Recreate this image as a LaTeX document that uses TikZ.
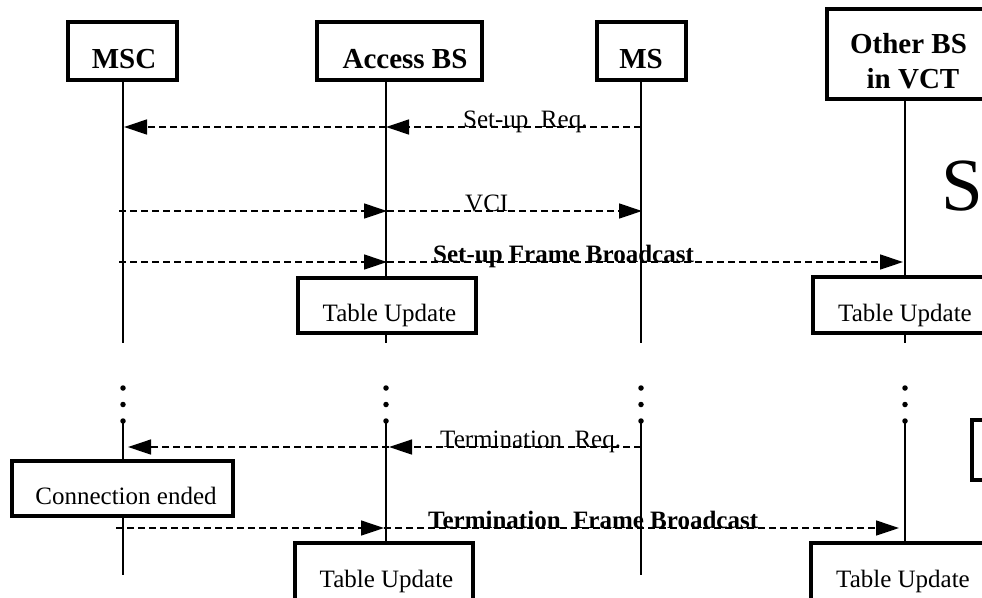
\documentclass[tikz,border=0pt]{standalone}
\usepackage{fontspec}
\setmainfont{Liberation Serif}
\usetikzlibrary{arrows.meta}

\begin{document}
\begin{tikzpicture}[x=1pt,y=-1pt,
  box/.style={draw, line width=3.2pt, fill=white, inner sep=0pt},
  life/.style={line width=1.2pt},
  msg/.style={line width=1.3pt, dash pattern=on 7pt off 4pt,
              -{Triangle[length=23pt,width=15pt]}},
  hdr/.style={font=\fontsize{29}{34}\selectfont\bfseries, inner sep=0pt, anchor=base},
  txt/.style={font=\fontsize{25}{30}\selectfont, inner sep=0pt, anchor=base},
  lbl/.style={font=\fontsize{25}{30}\selectfont, inner sep=0pt, anchor=base west},
  blbl/.style={font=\fontsize{25}{30}\selectfont\bfseries, inner sep=0pt, anchor=base west},
  dot/.style={fill, circle, inner sep=0pt, minimum size=5.5pt}]
\useasboundingbox (0,0) rectangle (982,597);
\clip (0,0) rectangle (982,597);

% header boxes
\node[box, minimum width=109pt, minimum height=58pt] (msc) at (122.5,51) {};
\node[box, minimum width=165pt, minimum height=58pt] (acc) at (399.5,51) {};
\node[box, minimum width=89pt,  minimum height=58pt] (ms)  at (641.5,51) {};
\node[box, minimum width=170pt, minimum height=90pt] (obs) at (912,54) {};
\node[hdr] (mscT) at (124,68) {MSC};
\node[hdr] (accT) at (405,68) {Access BS};
\node[hdr] (msT)  at (641,68) {MS};
\node[hdr] (obsT1) at (908.5,53) {Other BS};
\node[hdr] (obsT2) at (913,88) {in VCT};

% upper lifelines
\coordinate (mscA) at (123,80);  \coordinate (mscB) at (123,343);
\coordinate (accA) at (386,80);  \coordinate (accB) at (386,343);
\coordinate (msA)  at (641,80);  \coordinate (msB)  at (641,343);
\coordinate (obsA) at (905,99);  \coordinate (obsB) at (905,343);
\draw[life] (mscA) -- (mscB);
\draw[life] (accA) -- (accB);
\draw[life] (msA) -- (msB);
\draw[life] (obsA) -- (obsB);

% Set-up Req.
\coordinate (m1ms)  at (641,127);
\coordinate (m1acc) at (386,127);
\coordinate (m1msc) at (124,127);
\draw[msg] (m1ms) -- (m1acc);
\draw[msg] (m1acc) -- (m1msc);
\node[lbl] (m1T) at (463,127) {Set-up\ \ Req.};

% VCI
\coordinate (m2msc) at (119,211);
\coordinate (m2acc) at (387,211);
\coordinate (m2ms)  at (642,211);
\draw[msg] (m2msc) -- (m2acc);
\draw[msg] (m2acc) -- (m2ms);
\node[lbl] (m2T) at (465,211) {VCI};

% Set-up Frame Broadcast
\coordinate (m3msc) at (119,262);
\coordinate (m3acc) at (387,262);
\coordinate (m3obs) at (903,262);
\draw[msg] (m3msc) -- (m3acc);
\draw[msg] (m3acc) -- (m3obs);
\node[blbl] (m3T) at (433,262) {Set-up Frame Broadcast};

% table updates
\node[box, minimum width=178pt, minimum height=55pt] (tu1) at (387,305.5) {};
\node[txt] (tu1T) at (389.5,321) {Table Update};
\node[box, minimum width=184pt, minimum height=56pt] (tu2) at (905,305) {};
\node[txt] (tu2T) at (905,321) {Table Update};

% large letter at the right margin
\node[font=\fontsize{75}{80}\selectfont, inner sep=0pt, anchor=base west] (bigS) at (941,210) {S};

% continuation dots
\foreach \x in {123,386,641,905} {
  \node[dot] at (\x,388) {};
  \node[dot] at (\x,404.5) {};
  \node[dot] at (\x,421) {};
}

% lower lifelines
\coordinate (mscC) at (123,421);  \coordinate (mscD) at (123,575);
\coordinate (accC) at (386,421);  \coordinate (accD) at (386,575);
\coordinate (msC)  at (641,421);  \coordinate (msD)  at (641,575);
\coordinate (obsC) at (905,421);  \coordinate (obsD) at (905,575);
\draw[life] (mscC) -- (mscD);
\draw[life] (accC) -- (accD);
\draw[life] (msC) -- (msD);
\draw[life] (obsC) -- (obsD);

% partly visible box at the right margin
\node[box, minimum width=60pt, minimum height=60pt] (rbox) at (1002,450) {};

% Termination Req.
\coordinate (m4ms)  at (641,447);
\coordinate (m4acc) at (389,447);
\coordinate (m4msc) at (128,447);
\draw[msg] (m4ms) -- (m4acc);
\draw[msg] (m4acc) -- (m4msc);
\node[lbl] (m4T) at (440,447) {Termination\ \ Req.};

% connection ended
\node[box, minimum width=221pt, minimum height=55pt] (ce) at (122.5,488.5) {};
\node[txt] (ceT) at (126,504) {Connection ended};

% Termination Frame Broadcast
\coordinate (m5msc) at (116,528);
\coordinate (m5acc) at (384,528);
\coordinate (m5obs) at (899,528);
\draw[msg] (m5msc) -- (m5acc);
\draw[msg] (m5acc) -- (m5obs);
\node[blbl] (m5T) at (428,528) {Termination\ \ Frame Broadcast};

% lower table updates
\node[box, minimum width=178pt, minimum height=70pt] (tu3) at (384,578) {};
\node[txt] (tu3T) at (386.5,587) {Table Update};
\node[box, minimum width=186pt, minimum height=70pt] (tu4) at (904,578) {};
\node[txt] (tu4T) at (903,587) {Table Update};
\end{tikzpicture}
\end{document}
